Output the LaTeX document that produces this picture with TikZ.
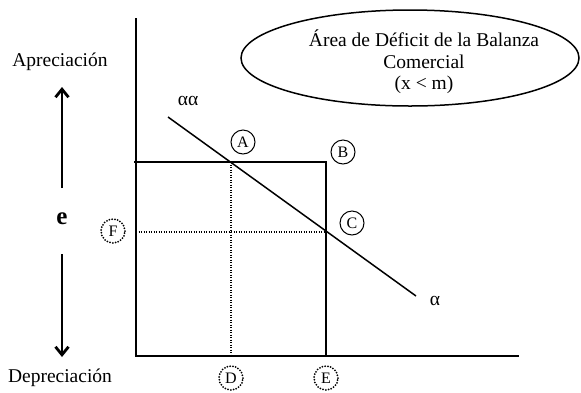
\documentclass[tikz,border=0pt]{standalone}
\usepackage{fontspec}
\setmainfont{Liberation Serif}
\usetikzlibrary{arrows.meta,shapes.geometric}
\begin{document}
\begin{tikzpicture}[x=1pt,y=-1pt,
 axis/.style={line width=2.4pt},
 thinline/.style={line width=1.5pt},
 dotline/.style={line width=1.5pt, dash pattern=on 1.2pt off 1.3pt},
 lbl/.style={circle, draw, line width=1pt, minimum size=24pt, inner sep=0pt, font=\fontsize{16}{16}\selectfont},
 dlbl/.style={lbl, line width=2pt, line cap=round, dash pattern=on 0pt off 2.8pt},
 txt/.style={font=\fontsize{19.5}{21.5}\selectfont, inner sep=0pt},
 bigarrow/.style={line width=2.4pt, -{Straight Barb[length=8pt,width=13pt,line width=2.8pt]}}
]
\useasboundingbox (0,0) rectangle (581,392);
% axes
\coordinate (Ytop) at (136,18);
\coordinate (O) at (136,356);
\coordinate (Xend) at (519,356);
\draw[axis] (Ytop) -- (O) -- (Xend);
% box
\coordinate (L) at (134,162);
\coordinate (Bc) at (326,162);
\coordinate (Ec) at (326,356);
\draw[thinline] (L) -- (Bc) -- (Ec);
% dotted lines
\coordinate (Dtop) at (231,162);
\coordinate (Dbot) at (231,356);
\coordinate (Fl) at (136,232);
\coordinate (Cp) at (326,232);
\draw[dotline] (Dtop) -- (Dbot);
\draw[dotline] (Fl) -- (Cp);
% demand line
\coordinate (a1) at (168,117);
\coordinate (a2) at (416,296);
\draw[thinline] (a1) -- (a2);
% labels
\node[txt] (aa) at (188,101) {αα};
\node[txt] (al) at (435,301) {α};
\node[lbl] (A) at (243,142) {A};
\node[lbl] (B) at (343,152) {B};
\node[lbl] (C) at (352,223) {C};
\node[dlbl] (F) at (113,231) {F};
\node[dlbl] (D) at (231,378) {D};
\node[dlbl] (E) at (326,378) {E};
% ellipse
\node[ellipse, draw, line width=1.5pt, minimum width=338pt, minimum height=96pt, inner sep=0pt] (ell) at (410,58) {};
\node[txt, align=center] (elltxt) at (424,62) {Área de Déficit de la Balanza\\Comercial\\(x < m)};
% left side
\node[txt] (apr) at (60,62) {Apreciación};
\node[txt] (dep) at (60,378) {Depreciación};
\node[font=\fontsize{25}{25}\selectfont\bfseries, inner sep=0pt] (e) at (62,219) {e};
\coordinate (up0) at (62,188);
\coordinate (up1) at (62,87);
\coordinate (dn0) at (62,254);
\coordinate (dn1) at (62,357);
\draw[bigarrow] (up0) -- (up1);
\draw[bigarrow] (dn0) -- (dn1);
\end{tikzpicture}
\end{document}
